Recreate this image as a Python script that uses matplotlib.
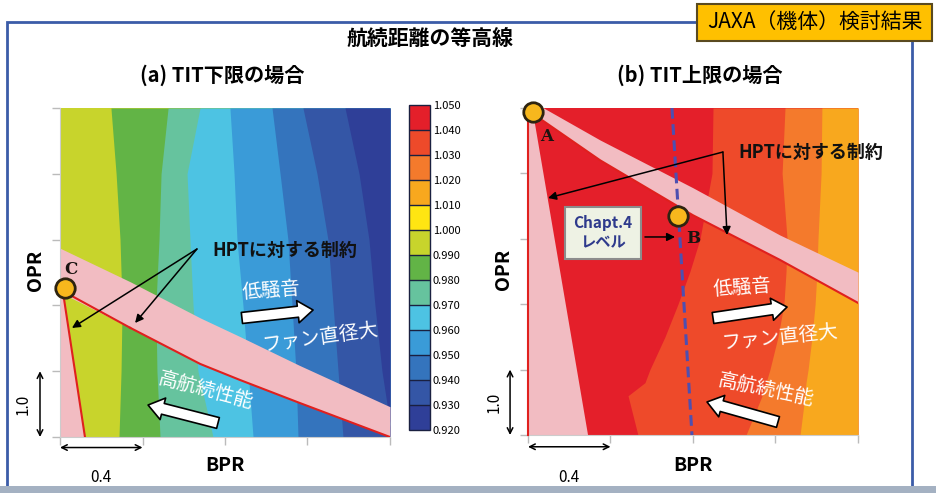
import matplotlib
matplotlib.use("Agg")
import matplotlib.pyplot as plt
from matplotlib.colors import ListedColormap, BoundaryNorm
from matplotlib.cm import ScalarMappable
from matplotlib.patches import Rectangle

plt.rcParams['font.family'] = ['Noto Sans CJK JP', 'DejaVu Sans']

# ---------------- data ----------------
levels = [0.920, 0.930, 0.940, 0.950, 0.960, 0.970, 0.980, 0.990,
          1.000, 1.010, 1.020, 1.030, 1.040, 1.050]
level_colors = ['#2F3F98', '#3456A6', '#3474BD', '#3A9BD8', '#4DC3E3',
                '#66C39E', '#62B446', '#C8D42C', '#FFE512', '#F8A81E',
                '#F47A2C', '#EE4A2A', '#E41F2A']

# (a) TIT lower limit: contour boundaries (BPR offset) at each OPR level
left_opr = [5.0, 4.0, 3.0, 2.0, 1.0, 0.0]
left_band_values = [0.990, 0.980, 0.970, 0.960, 0.950, 0.940, 0.930, 0.920]
left_b1 = [0.247, 0.272, 0.291, 0.301, 0.296, 0.286]
left_b2 = [0.524, 0.490, 0.480, 0.465, 0.470, 0.485]
left_b3 = [0.679, 0.616, 0.630, 0.645, 0.669, 0.742]
left_b4 = [0.824, 0.844, 0.858, 0.887, 0.912, 0.936]
left_b5 = [1.028, 1.067, 1.105, 1.125, 1.144, 1.154]
left_b6 = [1.178, 1.246, 1.299, 1.324, 1.348, 1.372]
left_b7 = [1.382, 1.450, 1.498, 1.527, 1.561, 1.610]

# (b) TIT upper limit
right_opr = [5.0, 4.0, 3.0, 2.5, 2.0, 1.5, 1.0, 0.8, 0.6, 0.0]
right_band_values = [1.040, 1.030, 1.020, 1.010]
right_b1 = [0.897, 0.892, 0.834, 0.785, 0.727, 0.664, 0.591, 0.567, 0.485, 0.533]
right_b2 = [1.246, 1.232, 1.256, 1.251, 1.241, 1.212, 1.173, 1.154, 1.135, 1.057]
right_b3 = [1.425, 1.421, 1.406, 1.401, 1.392, 1.377, 1.358, 1.348, 1.343, 1.319]

# HPT constraint bands
left_cons_bpr = [0.0, 0.34, 0.68, 0.87, 1.16, 1.6]
left_cons_top = [2.87, 2.36, 1.81, 1.53, 1.09, 0.46]
left_cons_bot = [2.20, 1.66, 1.11, 0.87, 0.52, 0.0]
left_wedge_bpr = [0.015, 0.121]
left_wedge_opr = [2.19, 0.0]

right_cons_bpr = [0.02, 0.35, 0.80, 1.22, 1.6]
right_cons_top = [5.10, 4.51, 3.78, 3.06, 2.49]
right_cons_bot = [4.92, 4.20, 3.36, 2.68, 2.02]
right_wedge_bpr = [0.024, 0.291]
right_wedge_opr = [4.94, 0.0]

chapt4_bpr = [0.698, 0.795]
chapt4_opr = [5.0, 0.0]

pt_A = (0.024, 4.94)
pt_B = (0.727, 3.35)
pt_C = (0.024, 2.26)

# --------------- figure ---------------
W, H = 937, 493
fig = plt.figure(figsize=(9.37, 4.93), dpi=100)
fig.patch.set_facecolor('white')


def fx(px):
    return px / W


def fy(py):
    return 1 - py / H


def col(v):
    return level_colors[int(round((v - 0.92) / 0.01))]


PINK = '#F2BCC2'
RED = '#E0201E'

# frame
fig.add_artist(Rectangle((fx(7), fy(487)), (912 - 7) / W, (487 - 22) / H,
                         transform=fig.transFigure, fill=False,
                         ec='#3B5CA8', lw=2, zorder=0))
fig.add_artist(Rectangle((0, 0), 1, 7 / H, transform=fig.transFigure,
                         fc='#A4B1C2', ec='none', zorder=1))
# JAXA box
fig.add_artist(Rectangle((fx(697), fy(41)), 235 / W, 37 / H,
                         transform=fig.transFigure, fc='#FFC000',
                         ec='#5A4A20', lw=1.5, zorder=5))
fig.text(fx(815), fy(22), 'JAXA（機体）検討結果', fontsize=15,
         ha='center', va='center', zorder=6)

fig.text(fx(430), fy(38), '航続距離の等高線', fontsize=15,
         fontweight='bold', ha='center', va='center')
fig.text(fx(222), fy(75), '(a) TIT下限の場合', fontsize=14.5,
         fontweight='bold', ha='center', va='center')
fig.text(fx(700), fy(75), '(b) TIT上限の場合', fontsize=14.5,
         fontweight='bold', ha='center', va='center')

axL = fig.add_axes([fx(60), fy(437), 330 / W, 329 / H])
axR = fig.add_axes([fx(528), fy(435), 330 / W, 327 / H])


def style_axes(ax):
    ax.set_xlim(0, 1.6)
    ax.set_ylim(0, 5)
    ax.set_xticks([0, 0.4, 0.8, 1.2, 1.6])
    ax.set_yticks([0, 1, 2, 3, 4, 5])
    ax.set_xticklabels([])
    ax.set_yticklabels([])
    ax.tick_params(direction='out', length=6, color='#BBBBBB', width=1)
    for s in ['top', 'right']:
        ax.spines[s].set_visible(False)
    for s in ['left', 'bottom']:
        ax.spines[s].set_color('#CCCCCC')


def draw_bands(ax, opr, bounds, values):
    for i, v in enumerate(values):
        xl = [0.0] * len(opr) if i == 0 else bounds[i - 1]
        ax.fill_betweenx(opr, xl, [1.6] * len(opr), color=col(v), lw=0,
                         zorder=1)


style_axes(axL)
style_axes(axR)

draw_bands(axL, left_opr,
           [left_b1, left_b2, left_b3, left_b4, left_b5, left_b6, left_b7],
           left_band_values)
draw_bands(axR, right_opr, [right_b1, right_b2, right_b3], right_band_values)

# constraint regions (a)
axL.fill_between(left_cons_bpr, left_cons_bot, left_cons_top, color=PINK,
                 lw=0, zorder=2)
axL.fill([0, left_wedge_bpr[0], left_wedge_bpr[1], 0],
         [left_wedge_opr[0], left_wedge_opr[0], 0, 0], color=PINK, lw=0,
         zorder=2)
axL.plot(left_cons_bpr[1:], left_cons_bot[1:], color=RED, lw=1.5, zorder=3)
axL.plot([pt_C[0], left_cons_bpr[1]], [pt_C[1] - 0.06, left_cons_bot[1]],
         color=RED, lw=1.5, zorder=3)
axL.plot(left_wedge_bpr, left_wedge_opr, color=RED, lw=1.5, zorder=3)

# constraint regions (b)
axR.fill_between(right_cons_bpr, right_cons_bot, right_cons_top, color=PINK,
                 lw=0, zorder=2, clip_on=True)
axR.fill([0, right_wedge_bpr[0], right_wedge_bpr[1], 0],
         [right_wedge_opr[0], right_wedge_opr[0], 0, 0], color=PINK, lw=0,
         zorder=2)
axR.plot(right_cons_bpr, right_cons_bot, color=RED, lw=1.5, zorder=3)
axR.plot([0, 0], [0, 4.94], color=RED, lw=1.5, zorder=3, clip_on=False)
axR.plot(chapt4_bpr, chapt4_opr, color='#4E4FB0', lw=2.2,
         ls=(0, (3.5, 1.8)), zorder=4)

# points
for ax, p in [(axR, pt_A), (axR, pt_B), (axL, pt_C)]:
    ax.plot([p[0]], [p[1]], 'o', ms=14, mfc='#F7B71D', mec='#2E2410',
            mew=2, zorder=6, clip_on=False)
serif = dict(family='DejaVu Serif', fontweight='bold', fontsize=12,
             color='#1A1410')
axR.text(0.092, 4.56, 'A', ha='center', va='center', zorder=7, **serif)
axR.text(0.80, 3.01, 'B', ha='center', va='center', zorder=7, **serif)
axL.text(0.055, 2.55, 'C', ha='center', va='center', zorder=7, **serif)

# HPT annotations
thin = dict(arrowstyle='-|>', color='black', lw=1.1, mutation_scale=12,
            shrinkA=0, shrinkB=0)
axL.text(1.09, 2.84, 'HPTに対する制約', fontsize=13, fontweight='bold',
         ha='center', va='center', color='#111111', zorder=8)
axL.annotate('', xy=(0.058, 1.657), xytext=(0.664, 2.857), arrowprops=thin,
             zorder=8)
axL.annotate('', xy=(0.364, 1.733), xytext=(0.664, 2.857), arrowprops=thin,
             zorder=8)

axR.text(1.018, 4.327, 'HPTに対する制約', fontsize=13, fontweight='bold',
         ha='left', va='center', color='#111111', zorder=8, clip_on=False)
axR.annotate('', xy=(0.097, 3.624), xytext=(0.945, 4.327), arrowprops=thin,
             zorder=8)
axR.annotate('', xy=(0.965, 3.058), xytext=(0.945, 4.327), arrowprops=thin,
             zorder=8)

axR.text(0.364, 3.089, 'Chapt.4\nレベル', fontsize=11, fontweight='bold',
         color='#2E3A8C', ha='center', va='center', linespacing=1.25,
         zorder=8,
         bbox=dict(boxstyle='square,pad=0.55', fc='#EEF2E4', ec='#8C8C8C',
                   lw=1.5))
axR.annotate('', xy=(0.713, 3.028), xytext=(0.567, 3.028), arrowprops=thin,
             zorder=8)

# white arrows & text
block = dict(arrowstyle='simple,head_length=0.55,head_width=0.8,tail_width=0.4',
             fc='white', ec='black', lw=1.2, mutation_scale=20,
             shrinkA=0, shrinkB=0)
wt = dict(color='white', fontsize=14, ha='center', va='center', zorder=8)

axL.text(1.023, 2.23, '低騒音', rotation=4, **wt)
axL.text(1.26, 1.52, 'ファン直径大', rotation=8, **wt)
axL.text(0.708, 0.714, '高航続性能', rotation=-15, **wt)
axL.annotate('', xy=(1.227, 1.93), xytext=(0.882, 1.809), arrowprops=block,
             zorder=8)
axL.annotate('', xy=(0.427, 0.486), xytext=(0.766, 0.213), arrowprops=block,
             zorder=8)

axR.text(1.038, 2.263, '低騒音', rotation=4, **wt)
axR.text(1.222, 1.498, 'ファン直径大', rotation=6, **wt)
axR.text(1.154, 0.688, '高航続性能', rotation=-12, **wt)
axR.annotate('', xy=(1.256, 1.957), xytext=(0.897, 1.789), arrowprops=block,
             zorder=8)
axR.annotate('', xy=(0.868, 0.505), xytext=(1.212, 0.199), arrowprops=block,
             zorder=8)

# axis labels & scale arrows
dbl = dict(arrowstyle='<->', color='black', lw=1.1, mutation_scale=10,
           shrinkA=0, shrinkB=0)
for ax, xv, xt, yh, yt in [(axL, -0.097, -0.18, -0.16, -0.62),
                           (axR, -0.087, -0.165, -0.18, -0.65)]:
    ax.annotate('', xy=(xv, 1.0), xytext=(xv, 0.0), arrowprops=dbl,
                annotation_clip=False)
    ax.text(xt, 0.5, '1.0', rotation=90, fontsize=11, ha='center',
            va='center', clip_on=False)
    ax.annotate('', xy=(0.4, yh), xytext=(0.0, yh), arrowprops=dbl,
                annotation_clip=False)
    ax.text(0.2, yt, '0.4', fontsize=11, ha='center', va='center',
            clip_on=False)
    ax.text(0.8, yt + 0.18, 'BPR', fontsize=14, fontweight='bold',
            ha='center', va='center', clip_on=False)
    ax.text(-0.12, 2.53, 'OPR', fontsize=14, fontweight='bold', rotation=90,
            ha='center', va='center', clip_on=False)

# colorbar
cax = fig.add_axes([fx(409), fy(430), 21 / W, 325 / H])
cmap = ListedColormap(level_colors)
norm = BoundaryNorm(levels, cmap.N)
cb = fig.colorbar(ScalarMappable(norm=norm, cmap=cmap), cax=cax,
                  ticks=levels, drawedges=True)
cb.ax.set_yticklabels([f'{v:.3f}' for v in levels])
cb.ax.tick_params(length=0, labelsize=8, pad=2)
cb.outline.set_edgecolor('#1A2040')
cb.outline.set_linewidth(1)
cb.dividers.set_color('#1A2040')
cb.dividers.set_linewidth(1)

fig.savefig('out.png', dpi=100)
